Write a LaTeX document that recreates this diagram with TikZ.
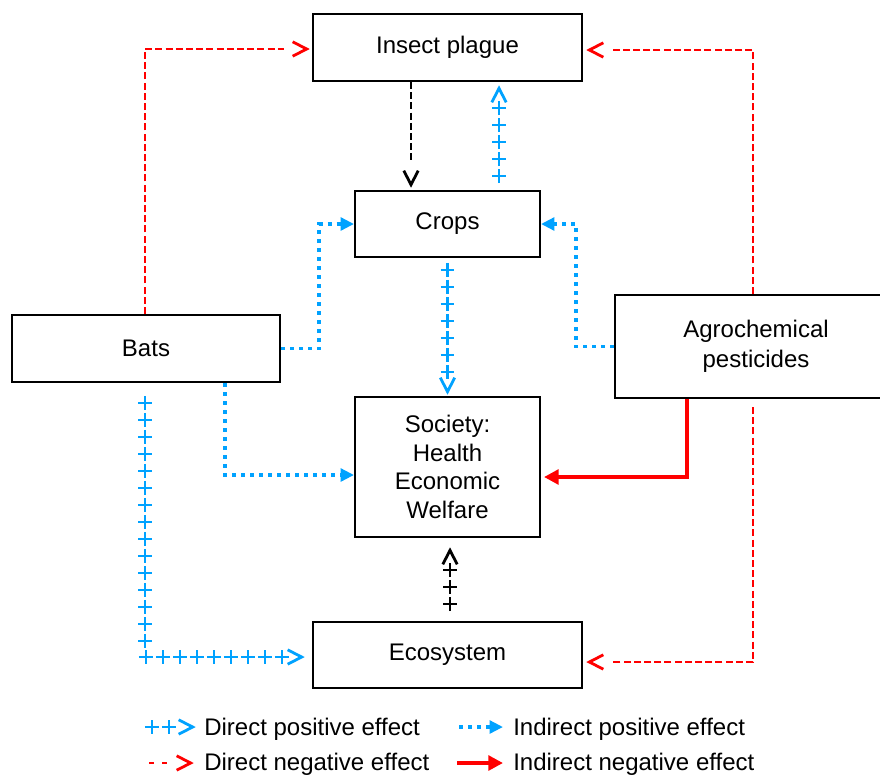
\documentclass[tikz,border=0pt]{standalone}
\usepackage{fontspec}
\setmainfont{Liberation Sans}
\usetikzlibrary{arrows.meta,calc,decorations.markings}
\definecolor{pblue}{RGB}{0,162,255}
\definecolor{nred}{RGB}{255,0,0}
\tikzset{
  box/.style={draw, line width=1.5pt, align=center, inner sep=0pt,
    font=\fontsize{18pt}{21.5pt}\selectfont},
  lbl/.style={anchor=base west, inner sep=0pt, font=\fontsize{18pt}{21.5pt}\selectfont},
  markline/.style={solid, line width=2.1pt, shorten >=0pt, shorten <=0pt},
  posd/.style={postaction={decorate, decoration={markings,
    mark=between positions 0 and -12pt step 12.75pt with
      {\draw[markline] (-5.4pt,0)--(5.4pt,0) (0,-5.2pt)--(0,5.2pt);},
    mark=at position 1 with
      {\draw[markline] (-11.5pt,5.4pt)--(-1pt,0)--(-11.5pt,-5.4pt);}}}},
  chevend/.style={shorten >=18pt, postaction={decorate, decoration={markings,
    mark=at position 1 with
      {\draw[markline] (-11.5pt,5.4pt)--(-1pt,0)--(-11.5pt,-5.4pt);}}}},
  negd/.style={color=nred, line width=2.2pt, dash pattern=on 5.25pt off 2.4pt, chevend},
  negblk/.style={color=black, line width=2.2pt, dash pattern=on 5.25pt off 2.4pt, chevend},
  indpos/.style={color=pblue, line width=2.8pt, dash pattern=on 3pt off 3.75pt,
    -{Triangle[length=10pt,width=9.5pt]}},
  indneg/.style={color=nred, line width=3.4pt, -{Triangle[length=11pt,width=11pt]}},
}
\begin{document}
\begin{tikzpicture}[x=0.75pt,y=-0.75pt]
\useasboundingbox (0,0) rectangle (880,775);
\clip (0,0) rectangle (880,775);
% boxes
\node[box, minimum width=201.75pt, minimum height=50.25pt] (ins) at (447.5,47.5) {Insect plague};
\node[box, minimum width=138.75pt, minimum height=49.5pt] (crops) at (447.5,224) {Crops};
\node[box, minimum width=201pt, minimum height=50.25pt] (bats) at (146,348.5) {Bats};
\node[box, minimum width=211.5pt, minimum height=77.25pt,
  font=\fontsize{18pt}{22.5pt}\selectfont] (agro) at (756,346.5) {Agrochemical\\pesticides};
\node[box, minimum width=138.75pt, minimum height=105pt] (soc) at (447.5,467) {Society:\\Health\\Economic\\Welfare};
\node[box, minimum width=201.75pt, minimum height=49.5pt] (eco) at (447.5,655) {Ecosystem};
% direct negative
\draw[negd] ($(bats.north)+(-1,0)$) |- ($(ins.west)+(-4,1.5)$);
\draw[negd] ($(agro.north)+(-3,0)$) |- ($(ins.east)+(5,2.5)$);
\draw[negd] ($(agro.south)+(-3,8)$) |- ($(eco.east)+(5,7)$);
\draw[negblk] ($(ins.south)+(-36.5,0)$) -- ($(crops.north)+(-36.5,-4)$);
% direct positive
\path[posd, color=pblue] ($(crops.north)+(51.5,-14)$) -- ($(ins.south)+(51.5,5)$);
\path[posd, color=pblue] ($(crops.south)+(0,12)$) -- ($(soc.north)+(0,-3)$);
\path[posd, color=black] ($(eco.north)+(2.5,-17)$) -- ($(soc.south)+(2.5,11)$);
\path[posd, color=pblue] ($(bats.south)+(-1,20)$) |- ($(eco.west)+(-9,2)$);
% indirect positive
\draw[indpos] (bats.east) -- ++(38,0) |- (crops.west);
\draw[indpos] (agro.west) -- ++(-38,0) |- (crops.east);
\draw[indpos] ($(bats.south)+(79,0)$) |- ($(soc.west)+(0,8)$);
% indirect negative
\draw[indneg] ($(agro.south)+(-69,0)$) |- ($(soc.east)+(3,10)$);
% legend
\coordinate (l1s) at (152,727); \coordinate (l1e) at (194,727);
\path[posd, color=pblue] (l1s) -- (l1e);
\node[lbl] (t1) at (204,735) {Direct positive effect};
\coordinate (l2s) at (459,727); \coordinate (l2e) at (503,727);
\draw[indpos] (l2s) -- (l2e);
\node[lbl] (t2) at (513,735) {Indirect positive effect};
\coordinate (l3s) at (149,763); \coordinate (l3e) at (192,763);
\draw[color=nred, line width=2.2pt, dash pattern=on 3.75pt off 6pt, chevend] (l3s) -- (l3e);
\node[lbl] (t3) at (204,770) {Direct negative effect};
\coordinate (l4s) at (457,763); \coordinate (l4e) at (503,763);
\draw[indneg] (l4s) -- (l4e);
\node[lbl] (t4) at (513,770) {Indirect negative effect};
\end{tikzpicture}
\end{document}
